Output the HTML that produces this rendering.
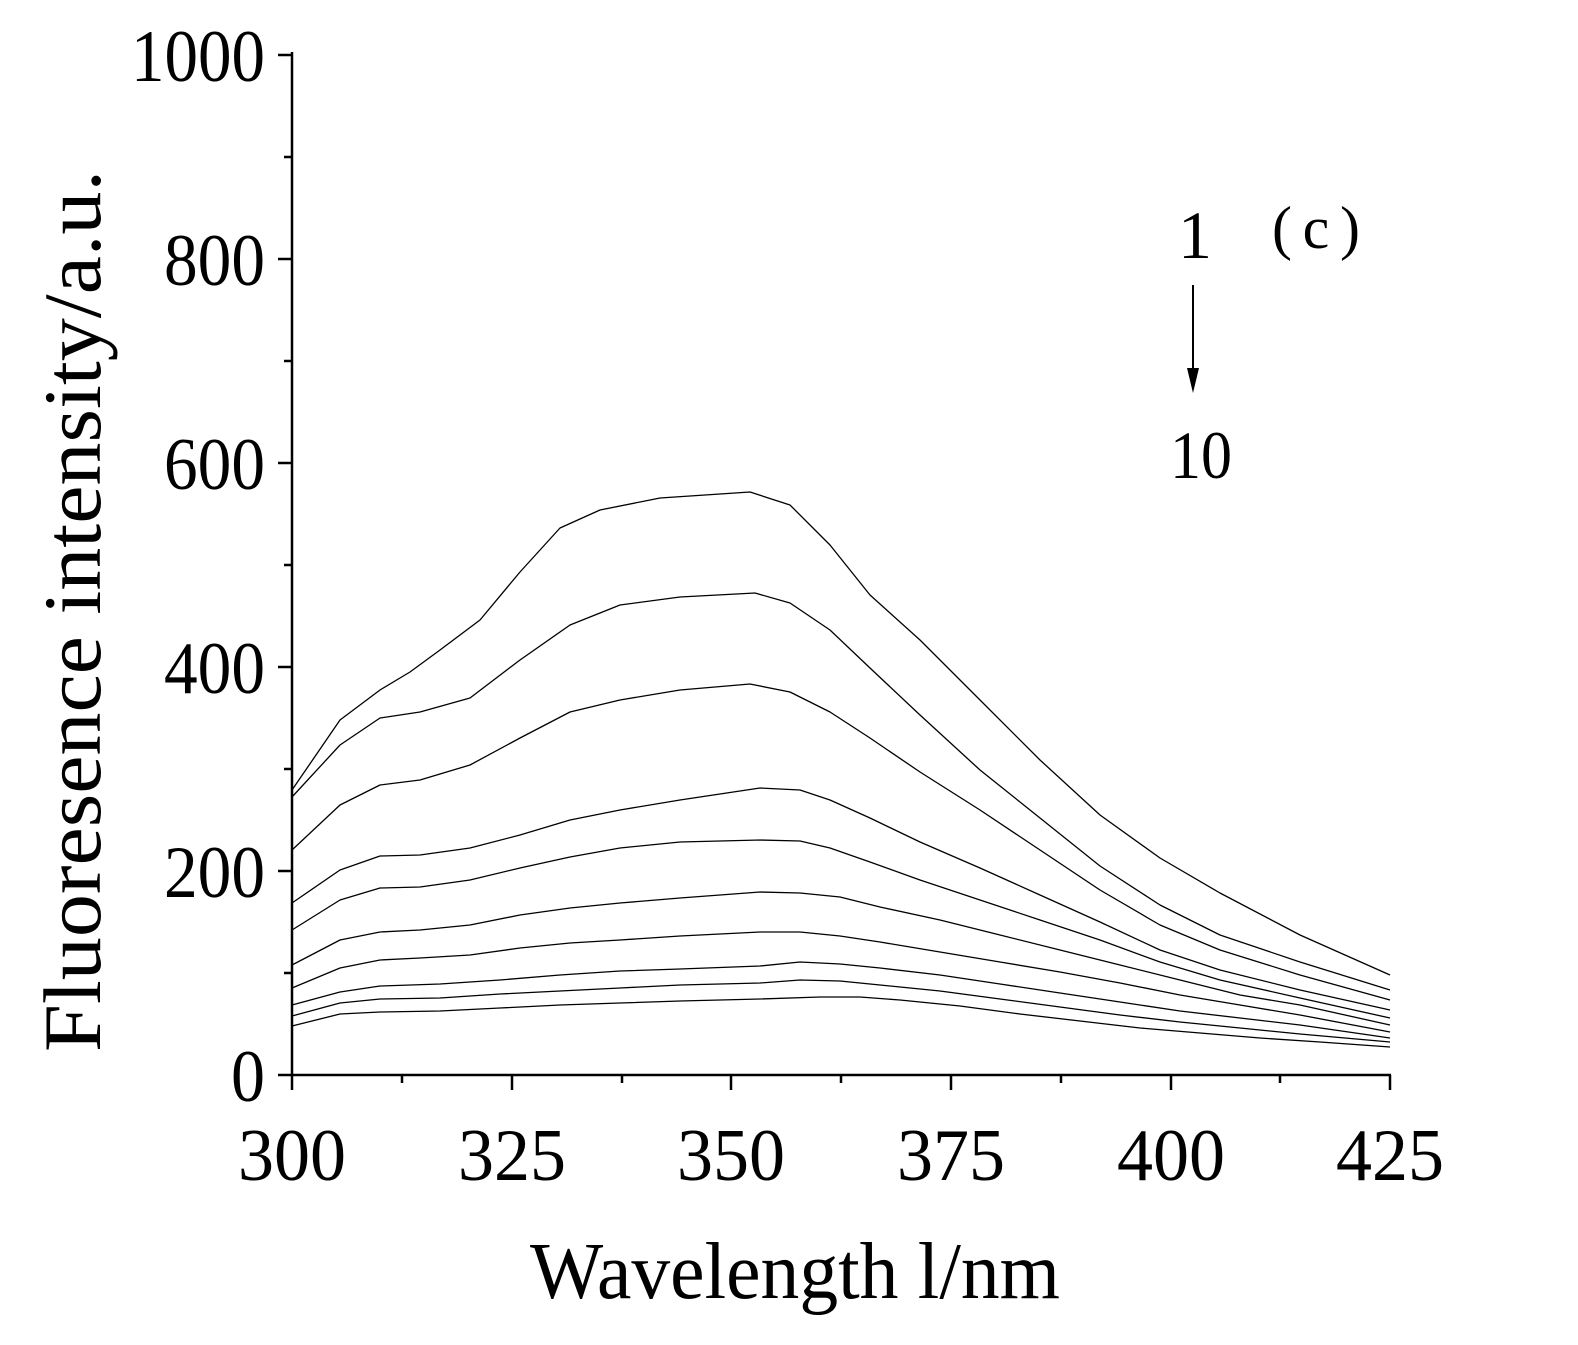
<!DOCTYPE html>
<html><head><meta charset="utf-8"><style>html,body{margin:0;padding:0;background:#fff}svg{display:block}</style></head>
<body>
<svg width="1578" height="1345" viewBox="0 0 1578 1345" xmlns="http://www.w3.org/2000/svg" font-family="'Liberation Serif',serif">
<g stroke="#000" stroke-width="2.5" fill="none">
<line x1="292" y1="52" x2="292" y2="1076"/>
<line x1="291" y1="1075" x2="1391" y2="1075"/>
<path d="M278 55H292M278 259H292M278 463H292M278 667H292M278 871H292M278 1075H292"/>
<path d="M284 157H292M284 361H292M284 565H292M284 769H292M284 973H292"/>
<path d="M292 1075V1090M512 1075V1090M731 1075V1090M951 1075V1090M1171 1075V1090M1390 1075V1090"/>
<path d="M402 1075V1083M622 1075V1083M841 1075V1083M1061 1075V1083M1280 1075V1083"/>
</g>
<g font-size="74" fill="#000">
<text x="131" y="81" textLength="134" lengthAdjust="spacingAndGlyphs">1000</text>
<text x="164" y="285" textLength="101" lengthAdjust="spacingAndGlyphs">800</text>
<text x="164" y="489" textLength="101" lengthAdjust="spacingAndGlyphs">600</text>
<text x="164" y="693" textLength="101" lengthAdjust="spacingAndGlyphs">400</text>
<text x="164" y="897" textLength="101" lengthAdjust="spacingAndGlyphs">200</text>
<text x="231" y="1101" textLength="34" lengthAdjust="spacingAndGlyphs">0</text>
</g>
<g font-size="74" fill="#000">
<text x="238" y="1180" textLength="108" lengthAdjust="spacingAndGlyphs">300</text>
<text x="458" y="1180" textLength="108" lengthAdjust="spacingAndGlyphs">325</text>
<text x="677" y="1180" textLength="108" lengthAdjust="spacingAndGlyphs">350</text>
<text x="897" y="1180" textLength="108" lengthAdjust="spacingAndGlyphs">375</text>
<text x="1117" y="1180" textLength="108" lengthAdjust="spacingAndGlyphs">400</text>
<text x="1336" y="1180" textLength="108" lengthAdjust="spacingAndGlyphs">425</text>
</g>
<text x="530" y="1298" font-size="80" textLength="530" lengthAdjust="spacingAndGlyphs">Wavelength  l/nm</text>
<text transform="translate(100,1052) rotate(-90)" font-size="82" textLength="882" lengthAdjust="spacingAndGlyphs">Fluoresence intensity/a.u.</text>
<text x="1195" y="258" font-size="68" text-anchor="middle">1</text>
<text x="1272" y="248" font-size="60" textLength="88" lengthAdjust="spacing">( c )</text>
<text x="1170" y="478" font-size="68" textLength="62" lengthAdjust="spacingAndGlyphs">10</text>
<line x1="1193" y1="285" x2="1193" y2="372" stroke="#000" stroke-width="2"/>
<polygon points="1187,368 1199,368 1193,393" fill="#000"/>
<g stroke="#000" stroke-width="1.3" fill="none" stroke-linejoin="round">
<polyline points="292,790 340,720 380,690 410,672 440,650 480,620 520,572 560,528 600,510 660,498 750,492 790,505 830,545 870,595 920,640 980,700 1040,760 1100,815 1160,858 1220,893 1300,935 1390,975"/>
<polyline points="292,797 340,745 380,718 420,712 470,698 520,660 570,625 620,605 680,597 755,593 790,603 830,630 870,668 920,715 980,770 1040,818 1100,866 1160,905 1220,935 1300,962 1390,990"/>
<polyline points="292,850 340,805 380,785 420,780 470,765 520,738 570,712 620,700 680,690 750,684 790,692 830,712 870,738 920,772 980,810 1040,850 1100,890 1160,925 1220,950 1300,975 1390,1000"/>
<polyline points="292,903 340,870 380,856 420,855 470,848 520,835 570,820 620,810 680,800 760,788 800,790 830,800 870,818 920,842 980,868 1040,895 1100,922 1160,950 1220,970 1300,990 1390,1010"/>
<polyline points="292,930 340,900 380,888 420,887 470,880 520,868 570,857 620,848 680,842 760,840 800,841 830,848 870,862 920,880 980,900 1040,920 1100,940 1160,962 1220,980 1300,998 1390,1018"/>
<polyline points="292,965 340,940 380,932 420,930 470,925 520,915 570,908 620,903 680,898 760,892 800,893 840,897 880,907 940,920 1000,935 1060,950 1120,965 1180,980 1240,995 1300,1005 1390,1025"/>
<polyline points="292,988 340,968 380,960 420,958 470,955 520,948 570,943 620,940 680,936 760,932 800,932 840,936 880,942 940,952 1000,962 1060,972 1120,983 1180,995 1240,1005 1300,1015 1390,1032"/>
<polyline points="292,1005 340,992 380,986 440,984 500,980 560,975 620,971 680,969 760,966 800,962 840,964 880,968 940,975 1000,984 1060,993 1120,1002 1180,1011 1240,1018 1300,1025 1390,1038"/>
<polyline points="292,1016 340,1003 380,999 440,998 500,994 560,991 620,988 680,985 760,983 800,980 840,981 880,985 940,991 1000,999 1060,1007 1120,1015 1180,1022 1240,1028 1300,1034 1390,1042"/>
<polyline points="292,1026 340,1014 380,1012 440,1011 500,1008 560,1005 620,1003 680,1001 760,999 820,997 860,997 900,1000 960,1006 1020,1014 1080,1021 1140,1028 1200,1033 1260,1038 1320,1042 1390,1047"/>
</g>
</svg>
</body></html>
